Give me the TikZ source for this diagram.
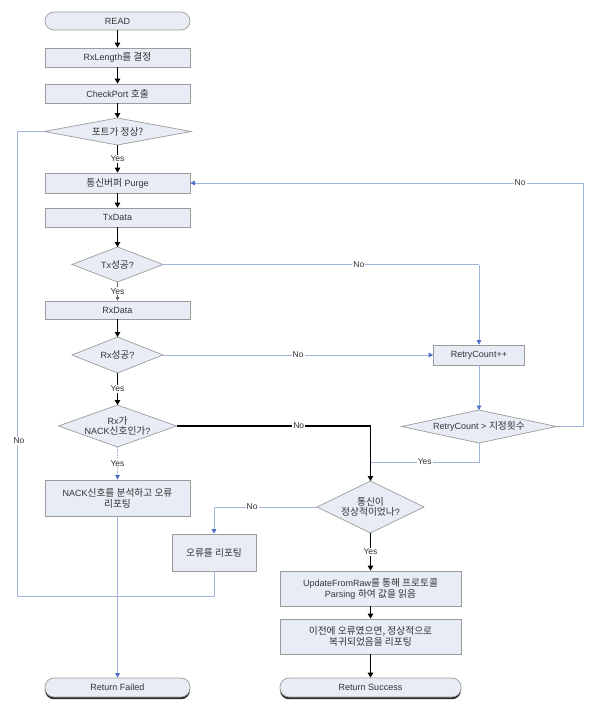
\documentclass[tikz,border=0pt]{standalone}
\usepackage{fontspec}
\setmainfont{Liberation Sans}
\newfontfamily\kr[Scale=1.08]{Noto Sans CJK KR}
\usetikzlibrary{shapes.geometric,arrows.meta,shadows}
\definecolor{boxfill}{HTML}{E8ECF5}
\definecolor{boxline}{HTML}{9C9C9C}
\definecolor{flowblue}{HTML}{A3B4DC}
\definecolor{tipblue}{HTML}{4A70C4}
\definecolor{txt}{HTML}{333333}
\begin{document}
\begin{tikzpicture}[x=1bp,y=-1bp,
  box/.style={draw=boxline, line width=0.7bp, fill=boxfill, rectangle, inner sep=1bp,
    align=center, text=txt, font=\fontsize{9bp}{11bp}\selectfont},
  term/.style={box, rounded corners=9bp},
  shterm/.style={term, drop shadow={shadow xshift=0bp, shadow yshift=-2.2bp, fill=black!85, opacity=1}},
  dec/.style={box, diamond, inner sep=0pt, outer sep=0pt},
  dtext/.style={text=txt, align=center, inner sep=0pt, font=\fontsize{9bp}{10.5bp}\selectfont},
  main/.style={draw=black, line width=1.4bp, -{Triangle[length=5bp,width=5.5bp]}},
  thin/.style={draw=flowblue, line width=0.7bp},
  thinarrow/.style={thin, -{Triangle[length=4.5bp,width=4.5bp,color=tipblue,fill=tipblue]}},
  lbl/.style={fill=white, inner sep=1bp, text=txt, font=\fontsize{8.5bp}{9bp}\selectfont}]
\useasboundingbox (0,0) rectangle (600,727);

% left column
\node[term, minimum width=145bp, minimum height=18bp] (read) at (117.5,21) {READ};
\node[box, minimum width=145bp, minimum height=19bp] (rxlen) at (117.5,57.5) {RxLength{\kr 를 결정}};
\node[box, minimum width=145bp, minimum height=19bp] (chk) at (117.5,93.5) {CheckPort {\kr 호출}};
\node[dec, minimum width=147bp, minimum height=27bp, label={[dtext]center:{\kr 포트가 정상?}}] (port) at (117.5,131.5) {};
\node[box, minimum width=145bp, minimum height=20bp] (purge) at (117.5,183) {{\kr 통신버퍼} Purge};
\node[box, minimum width=145bp, minimum height=19bp] (txd) at (117.5,217.5) {TxData};
\node[dec, minimum width=91bp, minimum height=35bp, label={[dtext]center:{Tx{\kr 성공}?}}] (tx) at (117.5,264.5) {};
\node[box, minimum width=145bp, minimum height=18bp] (rxd) at (117.5,310) {RxData};
\node[dec, minimum width=91bp, minimum height=36bp, label={[dtext]center:{Rx{\kr 성공}?}}] (rx) at (117.5,355) {};
\node[dec, minimum width=118bp, minimum height=42bp, label={[dtext]center:{Rx{\kr 가}\\NACK{\kr 신호인가}?}}] (nack) at (117.5,426) {};
\node[box, minimum width=145bp, minimum height=36bp] (nackbox) at (117.5,498) {NACK{\kr 신호를 분석하고 오류}\\{\kr 리포팅}};
\node[box, minimum width=84bp, minimum height=37bp] (err) at (214,552.5) {{\kr 오류를 리포팅}};
\node[shterm, minimum width=145bp, minimum height=19bp] (retf) at (117.5,687.5) {Return Failed};

% right column
\node[box, minimum width=91bp, minimum height=20bp] (retry) at (479,355) {RetryCount++};
\node[dec, minimum width=155bp, minimum height=33bp, label={[dtext]center:{RetryCount > {\kr 지정횟수}}}] (rdec) at (479,426.5) {};
\node[dec, minimum width=107bp, minimum height=52bp, label={[dtext]center:{{\kr 통신이}\\{\kr 정상적이었나}?}}] (comm) at (370.5,507) {};
\node[box, minimum width=181bp, minimum height=35bp] (upd) at (370.5,588.5) {UpdateFromRaw{\kr 를 통해 프로토콜}\\Parsing {\kr 하여 값을 읽음}};
\node[box, minimum width=181bp, minimum height=35bp] (prev) at (370.5,636.5) {{\kr 이전에 오류였으면, 정상적으로}\\{\kr 복귀되었음을 리포팅}};
\node[shterm, minimum width=181bp, minimum height=19bp] (rets) at (370.5,687.5) {Return Success};

% helper coordinates
\coordinate (merge) at (117.5,596);
\coordinate (lc) at (17,596);
\coordinate (rtop) at (583,183);
\coordinate (join) at (370.5,462);

% main flow
\draw[main] (read) -- (rxlen);
\draw[main] (rxlen) -- (chk);
\draw[main] (chk) -- (port);
\draw[main] (port) -- node[lbl]{Yes} (purge);
\draw[main] (purge) -- (txd);
\draw[main] (txd) -- (tx);
\draw[draw=black!60, line width=0.7bp, -{Triangle[length=3.5bp,width=3.5bp]}] (tx) -- node[lbl]{Yes} (rxd);
\draw[main] (rxd) -- (rx);
\draw[main] (rx) -- node[lbl]{Yes} (nack);
\draw[thinarrow, densely dotted] (nack) -- node[lbl]{Yes} (nackbox);
\draw[thinarrow] (nackbox) -- (retf);
\draw[main, -] (nack.east) -- node[lbl, pos=0.63]{No} (nack.east -| comm);
\draw[main] (nack.east -| comm) -- (comm);
\draw[main] (comm) -- node[lbl]{Yes} (upd);
\draw[main] (upd) -- (prev);
\draw[main] (prev) -- (rets);

% secondary connectors
\draw[thin] (comm.west) -- node[lbl, pos=0.63]{No} (comm.west -| err);
\draw[thinarrow] (comm.west -| err) -- (err);
\draw[thin] (err.south) |- (merge);
\draw[thin] (port.west) -| (lc);
\draw[thin] (lc) -- (merge);
\node[lbl] (noport) at (19,441) {No};
\draw[thin] (tx.east) -- node[lbl, pos=0.62]{No} (tx.east -| retry);
\draw[thinarrow] (tx.east -| retry) -- (retry.north);
\draw[thinarrow] (rx.east) -- node[lbl]{No} (retry.west);
\draw[thinarrow] (retry) -- (rdec);
\draw[thin] (rdec.east) -| (rtop);
\draw[thinarrow] (rtop) -- node[lbl, pos=0.16]{No} (purge.east);
\draw[thin] (rdec.south) |- node[lbl, pos=0.75]{Yes} (join);
\end{tikzpicture}
\end{document}
